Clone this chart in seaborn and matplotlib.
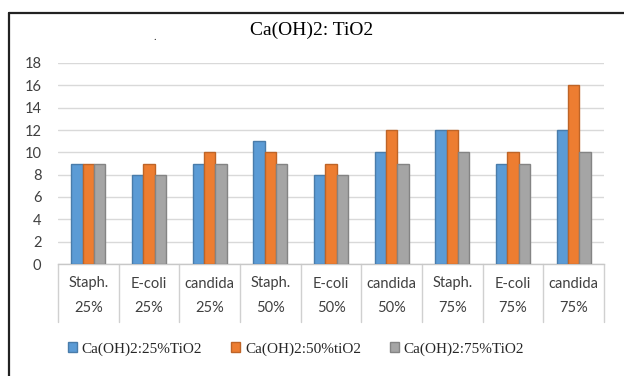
import matplotlib
matplotlib.use("Agg")
import matplotlib.pyplot as plt
import matplotlib.colors as mcolors
from matplotlib.lines import Line2D
import numpy as np
import pandas as pd
import seaborn as sns

# Organisms and TiO2 ratio for each category on the x axis
organisms = ["Staph.", "E-coli", "candida", "Staph.", "E-coli", "candida", "Staph.", "E-coli", "candida"]
ratios = ["25%", "25%", "25%", "50%", "50%", "50%", "75%", "75%", "75%"]

# Series names and values (one per category)
series_names = ["Ca(OH)2:25%TiO2", "Ca(OH)2:50%tiO2", "Ca(OH)2:75%TiO2"]
vals_25 = [9, 8, 9, 11, 8, 10, 12, 9, 12]
vals_50 = [9, 9, 10, 10, 9, 12, 12, 10, 16]
vals_75 = [9, 8, 9, 9, 8, 9, 10, 9, 10]

yticks = [0, 2, 4, 6, 8, 10, 12, 14, 16, 18]
title = "Ca(OH)2: TiO2"

palette = ["#5B9BD5", "#ED7D31", "#A5A5A5"]

categories = [f"{o}|{r}" for o, r in zip(organisms, ratios)]
rows = []
for name, vals in zip(series_names, [vals_25, vals_50, vals_75]):
    for c, v in zip(categories, vals):
        rows.append({"category": c, "series": name, "value": v})
df = pd.DataFrame(rows)

sns.set_theme(style="white")
plt.rcParams["font.family"] = ["Lato", "DejaVu Sans"]

fig = plt.figure(figsize=(6.24, 3.76), dpi=100)
ax = fig.add_axes([58 / 624, 1 - 264 / 376, (604 - 58) / 624, (264 - 63) / 376])

sns.barplot(data=df, x="category", y="value", hue="series", order=categories,
            hue_order=series_names, palette=palette, width=0.56, saturation=1,
            ax=ax, legend=False, zorder=3)

# darker outline around each bar
for p in ax.patches:
    fc = np.array(mcolors.to_rgb(p.get_facecolor()))
    p.set_edgecolor(fc * 0.8)
    p.set_linewidth(1.0)

ax.set_ylim(0, 18)
ax.set_xlim(-0.5, len(categories) - 0.5)
ax.set_yticks(yticks)
ax.yaxis.grid(True, color="#D9D9D9", linewidth=1.0, zorder=0)
ax.set_axisbelow(True)
for s in ["left", "right", "top"]:
    ax.spines[s].set_visible(False)
ax.spines["bottom"].set_color("#C8C8C8")
ax.spines["bottom"].set_linewidth(1.0)

ax.set_xlabel("")
ax.set_ylabel("")
ax.set_xticks(range(len(categories)))
ax.set_xticklabels([f"{o}\n{r}" for o, r in zip(organisms, ratios)],
                   linespacing=2.0, fontsize=10.5, color="#404040")
ax.tick_params(axis="x", length=0, pad=9)
ax.tick_params(axis="y", length=0, pad=12, labelsize=10.5, labelcolor="#404040")

# vertical dividers between category labels
trans = ax.get_xaxis_transform()
for b in np.arange(-0.5, len(categories), 1.0):
    ax.plot([b, b], [0, -58 / 201], transform=trans, color="#D0D0D0",
            linewidth=1.0, clip_on=False)

fig.text(0.5, 1 - 30 / 376, title, ha="center", va="center",
         fontsize=14, family=["Liberation Serif"], color="#000000")
fig.text(155 / 624, 1 - 42 / 376, ".", ha="center", va="bottom",
         fontsize=8, color="#333333")

# legend below the category labels
handles = [plt.Rectangle((0, 0), 1, 1, facecolor=c, edgecolor=np.array(mcolors.to_rgb(c)) * 0.8)
           for c in palette]
fig.legend(handles, series_names, loc="center", bbox_to_anchor=(296 / 624, 1 - 349 / 376),
           ncol=3, frameon=False, prop={"family": "Liberation Serif", "size": 11},
           handlelength=0.6, handleheight=0.6, handletextpad=0.3, columnspacing=1.9)

# outer frame
fig.lines.append(Line2D([9 / 624, 9 / 624], [0, 1 - 13 / 376], transform=fig.transFigure,
                        color="#222222", linewidth=1.6))
fig.lines.append(Line2D([9 / 624, 1], [1 - 13 / 376, 1 - 13 / 376], transform=fig.transFigure,
                        color="#222222", linewidth=1.6))

fig.savefig("out.png", dpi=100)
